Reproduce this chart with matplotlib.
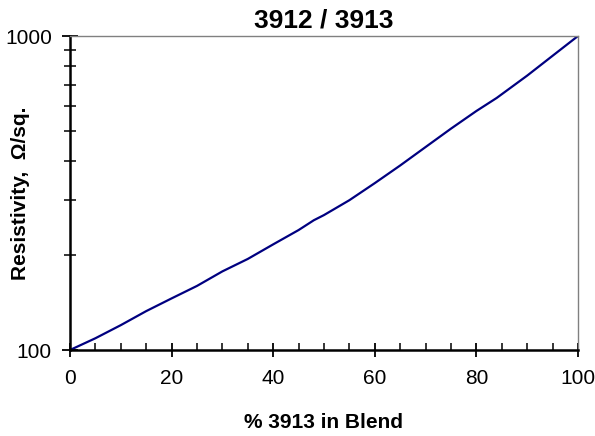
import matplotlib
matplotlib.use("Agg")
import matplotlib.pyplot as plt
from matplotlib.ticker import FixedLocator, NullFormatter, LogLocator

plt.rcParams['font.family'] = ['Liberation Sans', 'DejaVu Sans']

pct_3913 = [0, 5, 10, 15, 20, 25, 30, 35, 40, 45, 48, 50, 55, 60, 65, 70, 75, 80, 84, 90, 95, 100]
resistivity = [100, 109, 120, 133, 146, 160, 178, 195, 217, 241, 259, 269, 300, 340, 387, 443, 507, 577, 635, 748, 865, 1000]

fig = plt.figure(figsize=(5.95, 4.36), dpi=100)
ax = fig.add_axes([0.1176, 0.1972, 0.8538, 0.7202])

ax.plot(pct_3913, resistivity, color='#000080', lw=1.6, solid_joinstyle='round')

ax.set_yscale('log')
ax.set_xlim(0, 100)
ax.set_ylim(100, 1000)

ax.set_xticks([0, 20, 40, 60, 80, 100])
ax.xaxis.set_minor_locator(FixedLocator([v for v in range(5, 100, 5) if v % 20 != 0]))
ax.set_yticks([100, 1000])
ax.set_yticklabels(['100', '1000'])
ax.yaxis.set_minor_locator(LogLocator(base=10, subs=range(2, 10)))
ax.yaxis.set_minor_formatter(NullFormatter())

ax.tick_params(axis='x', which='major', direction='inout', length=10, width=1.3, labelsize=15, pad=9)
ax.tick_params(axis='x', which='minor', direction='in', length=5, width=1.1)
ax.tick_params(axis='y', which='major', direction='inout', length=12, width=1.3, labelsize=15, pad=7)
ax.tick_params(axis='y', which='minor', direction='inout', length=9, width=1.1)

for s in ['left', 'bottom']:
    ax.spines[s].set_color('black')
    ax.spines[s].set_linewidth(1.8)
for s in ['top', 'right']:
    ax.spines[s].set_color('#808080')
    ax.spines[s].set_linewidth(1.0)

ax.set_title('3912 / 3913', fontsize=19, fontweight='bold', pad=6)
ax.set_xlabel('% 3913 in Blend', fontsize=15, fontweight='bold', labelpad=18)
ax.set_ylabel('Resistivity,  Ω/sq.', fontsize=15, fontweight='bold')
ax.yaxis.set_label_coords(-0.078, 0.5)

fig.savefig('out.png', dpi=100)
